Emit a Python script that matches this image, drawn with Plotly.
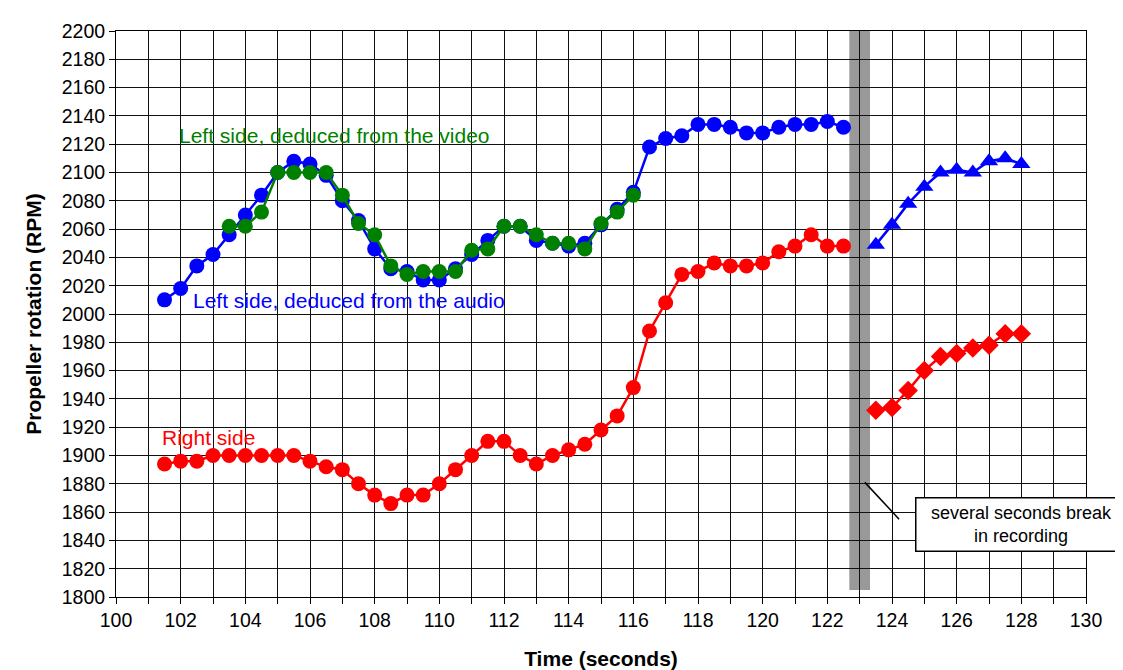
import plotly.graph_objects as go

# Time stamps (seconds)
t_audio = [101.5, 102, 102.5, 103, 103.5, 104, 104.5, 105, 105.5, 106, 106.5, 107,
           107.5, 108, 108.5, 109, 109.5, 110, 110.5, 111, 111.5, 112, 112.5, 113,
           113.5, 114, 114.5, 115, 115.5, 116, 116.5, 117, 117.5, 118, 118.5, 119,
           119.5, 120, 120.5, 121, 121.5, 122, 122.5]
rpm_audio = [2010, 2018, 2034, 2042, 2056, 2070, 2084, 2100, 2108, 2106, 2098, 2080,
             2066, 2046, 2032, 2030, 2024, 2024, 2032, 2042, 2052, 2062, 2062, 2052,
             2050, 2048, 2050, 2063, 2074, 2086, 2118, 2124, 2126, 2134, 2134, 2132,
             2128, 2128, 2132, 2134, 2134, 2136, 2132]

t_video = [103.5, 104, 104.5, 105, 105.5, 106, 106.5, 107, 107.5, 108, 108.5, 109,
           109.5, 110, 110.5, 111, 111.5, 112, 112.5, 113, 113.5, 114, 114.5, 115,
           115.5, 116]
rpm_video = [2062, 2062, 2072, 2100, 2100, 2100, 2100, 2084, 2064, 2056, 2034, 2028,
             2030, 2030, 2030, 2045, 2046, 2062, 2062, 2056, 2050, 2050, 2046, 2064,
             2072, 2084]

t_right = [101.5, 102, 102.5, 103, 103.5, 104, 104.5, 105, 105.5, 106, 106.5, 107,
           107.5, 108, 108.5, 109, 109.5, 110, 110.5, 111, 111.5, 112, 112.5, 113,
           113.5, 114, 114.5, 115, 115.5, 116, 116.5, 117, 117.5, 118, 118.5, 119,
           119.5, 120, 120.5, 121, 121.5, 122, 122.5]
rpm_right = [1894, 1896, 1896, 1900, 1900, 1900, 1900, 1900, 1900, 1896, 1892, 1890,
             1880, 1872, 1866, 1872, 1872, 1880, 1890, 1900, 1910, 1910, 1900, 1894,
             1900, 1904, 1908, 1918, 1928, 1948, 1988, 2008, 2028, 2030, 2036, 2034,
             2034, 2036, 2044, 2048, 2056, 2048, 2048]

# after the break in recording
t_after = [123.5, 124, 124.5, 125, 125.5, 126, 126.5, 127, 127.5, 128]
rpm_left_after = [2049, 2063, 2078, 2090, 2100, 2102, 2100, 2108, 2110, 2106]
rpm_right_after = [1932, 1934, 1946, 1960, 1970, 1972, 1976, 1978, 1986, 1986]

x_ticks = list(range(100, 131))
x_ticktext = [str(v) if v % 2 == 0 else "" for v in x_ticks]

BLUE = "#0000FF"
GREEN = "#008000"
RED = "#FF0000"
FONT = "Liberation Sans, Arial, sans-serif"

fig = go.Figure()


def add_series(x, y, color, symbol, size):
    fig.add_trace(go.Scatter(
        x=x, y=y, mode="lines+markers",
        line=dict(color=color, width=2.5),
        marker=dict(color=color, symbol=symbol, size=size, line=dict(width=0)),
        showlegend=False, hoverinfo="x+y"
    ))


add_series(t_right, rpm_right, RED, "circle", 15)
add_series(t_after, rpm_right_after, RED, "diamond", 15)
add_series(t_audio, rpm_audio, BLUE, "circle", 15)
add_series(t_after, rpm_left_after, BLUE, "triangle-up", 16)
add_series(t_video, rpm_video, GREEN, "circle", 15)

# grey band marking the break in recording
fig.add_shape(type="rect", xref="x", yref="y", x0=122.68, x1=123.32, y0=1805, y1=2200,
              fillcolor="#999999", line=dict(width=0), layer="below")

# leader line for the note
fig.add_shape(type="line", xref="x", yref="y", x0=123.16, y0=1881, x1=124.22, y1=1855,
              line=dict(color="black", width=1.5))

fig.add_annotation(x=128.02, y=1851.5, xref="x", yref="y",
                   text="several seconds break<br>in recording", showarrow=False,
                   font=dict(family=FONT, size=18, color="black"),
                   bgcolor="white", bordercolor="black", borderwidth=1.5,
                   width=208, height=50, align="center")

# series labels
fig.add_annotation(x=101.88, y=2126.5, xref="x", yref="y", text="Left side, deduced from the video",
                   showarrow=False, xanchor="left", yanchor="middle",
                   font=dict(family=FONT, size=21, color=GREEN))
fig.add_annotation(x=102.32, y=2009.5, xref="x", yref="y", text="Left side, deduced from the audio",
                   showarrow=False, xanchor="left", yanchor="middle",
                   font=dict(family=FONT, size=21, color=BLUE))
fig.add_annotation(x=101.36, y=1913, xref="x", yref="y", text="Right side",
                   showarrow=False, xanchor="left", yanchor="middle",
                   font=dict(family=FONT, size=21, color=RED))

fig.update_layout(
    width=1123, height=670, autosize=False,
    margin=dict(l=108, r=45, t=22, b=78),
    paper_bgcolor="white", plot_bgcolor="white",
    font=dict(family=FONT, color="black", size=19.5),
)

fig.update_xaxes(
    range=[100, 130], tickvals=x_ticks, ticktext=x_ticktext,
    ticks="outside", ticklen=6, tickcolor="black",
    showgrid=True, gridcolor="#111111", gridwidth=1,
    showline=True, linecolor="black", linewidth=1, mirror=True,
    zeroline=False,
    title=dict(text="<b>Time (seconds)</b>", font=dict(size=21), standoff=20),
)
fig.update_yaxes(
    range=[1800, 2200], dtick=20, tick0=1800,
    ticks="outside", ticklen=6, tickcolor="black",
    showgrid=True, gridcolor="#111111", gridwidth=1,
    showline=True, linecolor="black", linewidth=1, mirror=True,
    zeroline=False,
    title=dict(text="<b>Propeller rotation (RPM)</b>", font=dict(size=21), standoff=14),
)

fig.write_html("out.html")
